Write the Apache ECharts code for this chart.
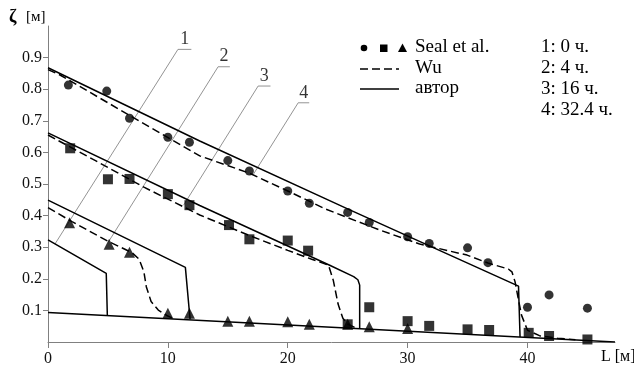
<!DOCTYPE html>
<html>
<head>
<meta charset="utf-8">
<script src="https://cdn.jsdelivr.net/npm/echarts@6/dist/echarts.min.js"></script>
<style>
  html, body { margin: 0; padding: 0; background: #fff; }
  #chart { width: 634px; height: 367px; }
</style>
</head>
<body>
<div id="chart"></div>
<script>
  // measured points (Seal et al.)
  const sealCircles = [[1.7, 0.813], [4.9, 0.794], [6.8, 0.708], [10, 0.648], [11.8, 0.632], [15, 0.574], [16.8, 0.541], [20, 0.478], [21.8, 0.439], [25, 0.41], [26.8, 0.378], [30, 0.333], [31.8, 0.312], [35, 0.298], [36.7, 0.251], [40, 0.11], [41.8, 0.149], [45, 0.107]];
  const sealSquares = [[1.85, 0.613], [5, 0.515], [6.8, 0.516], [10, 0.468], [11.8, 0.433], [15.1, 0.37], [16.8, 0.325], [20, 0.321], [21.7, 0.289], [25, 0.056], [26.8, 0.11], [30, 0.066], [31.8, 0.051], [35, 0.04], [36.8, 0.038], [40.1, 0.029], [41.8, 0.019], [45, 0.008]];
  const sealTriangles = [[1.8, 0.377], [5.1, 0.309], [6.8, 0.284], [10, 0.091], [11.8, 0.091], [15, 0.066], [16.8, 0.066], [20, 0.064], [21.8, 0.056], [25, 0.056], [26.8, 0.048], [30, 0.043]];

  // Wu (dashed)
  const wu2 = [[0, 0.425], [2, 0.381], [5.1, 0.317], [7.0, 0.283], [7.6, 0.262], [8.0, 0.222], [8.2, 0.175], [8.6, 0.128], [9.2, 0.101], [9.9, 0.084], [10.6, 0.072]];
  const wu3 = [[0, 0.655], [4, 0.573], [8, 0.49], [12.66, 0.402], [16.8, 0.337], [20, 0.29], [22, 0.262], [23.4, 0.243], [23.8, 0.195], [24.2, 0.12], [24.6, 0.075], [25.0, 0.057], [25.8, 0.042]];
  const wu4 = [[0, 0.862], [1, 0.845], [6, 0.735], [12.66, 0.589], [16.75, 0.535], [20, 0.478], [23.2, 0.42], [27.7, 0.354], [31, 0.31], [34.96, 0.275], [36.7, 0.25], [38.4, 0.231], [38.7, 0.222], [38.96, 0.191], [39.25, 0.133], [39.5, 0.085], [40, 0.037], [41, 0.02], [42.5, 0.012], [44, 0.007]];

  // author (solid)
  const author1 = [[0, 0.323], [4.86, 0.217], [4.95, 0.083]];
  const author2 = [[0, 0.449], [11.46, 0.236], [11.85, 0.072]];
  const author3 = [[0, 0.662], [12.66, 0.432], [23.5, 0.243], [25.5, 0.207], [25.85, 0.197], [26.0, 0.18], [26.0, 0.043]];
  const author4 = [[0, 0.868], [12.66, 0.636], [24.9, 0.423], [39.25, 0.177], [39.38, 0.172], [39.38, 0.016]];
  const bed = [[0, 0.093], [47.3, 0]];

  // callouts: curve end, elbow, underline end
  const callouts = [
    { name: '1', pts: [[0.58, 0.31], [10.84, 0.926], [11.96, 0.926]] },
    { name: '2', pts: [[5.03, 0.316], [14.19, 0.871], [15.17, 0.871]] },
    { name: '3', pts: [[11.31, 0.433], [17.53, 0.81], [18.56, 0.81]] },
    { name: '4', pts: [[17.12, 0.53], [20.87, 0.757], [21.79, 0.757]] }
  ];

  const yTicks = [0.1, 0.2, 0.3, 0.4, 0.5, 0.6, 0.7, 0.8, 0.9];
  const xTicks = [0, 10, 20, 30, 40];
  const legendRows = ['1: 0 ч.', '2: 4 ч.', '3: 16 ч.', '4: 32.4 ч.'];

  const serif = 'Liberation Serif';
  const chart = echarts.init(document.getElementById('chart'));

  function lineSeries (data, dashed) {
    return {
      type: 'line',
      data: data,
      showSymbol: false,
      silent: true,
      lineStyle: { color: '#000', width: 1.5, type: dashed ? [8, 4] : 'solid' },
      z: 3
    };
  }

  function markSeries (data, symbol, size) {
    return {
      type: 'scatter',
      data: data,
      symbol: symbol,
      symbolSize: size,
      itemStyle: { color: '#000' },
      z: 4
    };
  }

  let series = [
    lineSeries(bed, false),
    lineSeries(author1, false),
    lineSeries(author2, false),
    lineSeries(author3, false),
    lineSeries(author4, false),
    lineSeries(wu2, true),
    lineSeries(wu3, true),
    lineSeries(wu4, true),
    markSeries(sealCircles, 'circle', 9),
    markSeries(sealSquares, 'rect', 10),
    markSeries(sealTriangles, 'triangle', 11)
  ];

  callouts.forEach(function (c) {
    series.push({
      type: 'line',
      data: c.pts,
      showSymbol: false,
      silent: true,
      lineStyle: { color: '#777', width: 0.8 },
      z: 2
    });
    let p = c.pts[1], q = c.pts[2];
    series.push({
      type: 'scatter',
      data: [[(p[0] + q[0]) / 2, p[1]]],
      symbolSize: 0,
      silent: true,
      label: {
        show: true,
        position: 'top',
        distance: 1,
        formatter: c.name,
        fontFamily: serif,
        fontSize: 18,
        color: '#000'
      }
    });
  });

  let graphic = [
    { type: 'text', left: 9, top: 8, style: { text: 'ζ', font: 'bold 18px "' + serif + '"', fill: '#000' } },
    { type: 'text', left: 26, top: 10, style: { text: '[м]', font: '15px "' + serif + '"', fill: '#000' } },
    { type: 'text', left: 601, top: 349, style: { text: 'L [м]', font: '16px "' + serif + '"', fill: '#000' } },
    // legend
    { type: 'circle', shape: { cx: 364, cy: 48, r: 3.3 }, style: { fill: '#000' } },
    { type: 'rect', shape: { x: 380, y: 44.5, width: 7.5, height: 7.5 }, style: { fill: '#000' } },
    { type: 'polygon', shape: { points: [[402.5, 43.5], [407, 52], [398, 52]] }, style: { fill: '#000' } },
    { type: 'line', shape: { x1: 360, y1: 69, x2: 399, y2: 69 }, style: { stroke: '#000', lineWidth: 1.5, lineDash: [8, 4] } },
    { type: 'line', shape: { x1: 360, y1: 89, x2: 399, y2: 89 }, style: { stroke: '#000', lineWidth: 1.5 } }
  ];
  ['Seal et al.', 'Wu', 'автор'].forEach(function (t, i) {
    graphic.push({ type: 'text', left: 415, top: 38 + i * 20.5, style: { text: t, font: '19px "' + serif + '"', fill: '#000' } });
  });
  legendRows.forEach(function (t, i) {
    graphic.push({ type: 'text', left: 541, top: 38 + i * 21, style: { text: t, font: '19px "' + serif + '"', fill: '#000' } });
  });

  chart.setOption({
    animation: false,
    grid: { left: 48, right: 19, top: 26, bottom: 25 },
    xAxis: {
      type: 'value',
      min: 0,
      max: 47.3,
      splitLine: { show: false },
      axisLine: { lineStyle: { color: '#808080', width: 1 } },
      axisTick: { customValues: xTicks, length: 6, lineStyle: { color: '#808080' } },
      axisLabel: { customValues: xTicks, margin: 9, fontFamily: serif, fontSize: 16, color: '#111' }
    },
    yAxis: {
      type: 'value',
      min: 0,
      max: 1,
      splitLine: { show: false },
      axisLine: { show: true, lineStyle: { color: '#808080', width: 1 } },
      axisTick: { show: true, customValues: yTicks, length: 5, lineStyle: { color: '#808080' } },
      axisLabel: { customValues: yTicks, margin: 6, fontFamily: serif, fontSize: 16, color: '#111' }
    },
    series: series,
    graphic: graphic
  });
</script>
</body>
</html>
